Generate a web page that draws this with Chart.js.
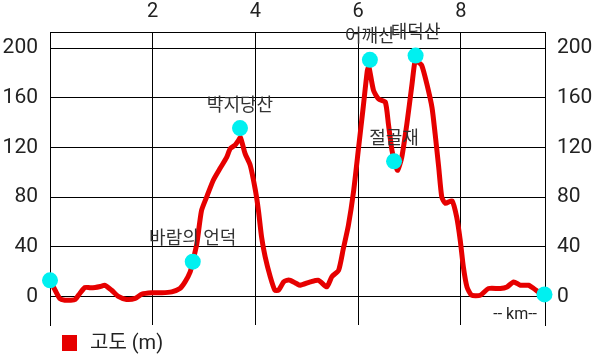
<!DOCTYPE html>
<html>
<head>
<meta charset="utf-8">
<script src="https://cdn.jsdelivr.net/npm/chart.js@4"></script>
<style>
  html, body { margin: 0; padding: 0; background: #fff; }
</style>
</head>
<body>
<canvas id="profileChart" width="602" height="362"></canvas>
<script>
// elevation profile (km, m)
const distanceKm = [0.00, 0.10, 0.19, 0.29, 0.40, 0.49, 0.58, 0.68, 0.78, 0.88, 0.98, 1.07, 1.20, 1.33, 1.49, 1.66, 1.79, 1.98,
  2.18, 2.37, 2.53, 2.63, 2.73, 2.78, 2.86, 2.95, 3.05, 3.18, 3.31, 3.44, 3.51, 3.60, 3.67, 3.71, 3.80, 3.90, 4.00,
  4.06, 4.12, 4.19, 4.29, 4.38, 4.45, 4.55, 4.61, 4.68, 4.80, 4.87, 5.07, 5.23, 5.39, 5.49, 5.62, 5.71, 5.81, 5.91,
  6.01, 6.10, 6.18, 6.21, 6.30, 6.40, 6.53, 6.59, 6.66, 6.72, 6.77, 6.85, 6.95, 7.05, 7.11, 7.16, 7.24, 7.34, 7.44,
  7.50, 7.57, 7.63, 7.70, 7.83, 7.92, 7.99, 8.05, 8.12, 8.21, 8.38, 8.54, 8.77, 8.90, 9.03, 9.16, 9.32, 9.42, 9.55, 9.61];
const elevation = [13, 5, -1.6, -3, -3, -2.4, 2.4, 7.2, 7, 7.2, 8, 9, 5, 0, -2.4, -1.6, 1.8, 2.9,
  2.9, 3.7, 6.4, 11.7, 19.8, 28, 42.6, 69, 80, 93.6, 103, 112, 119, 121.7, 125.7, 128, 115, 105.6, 85.5,
  69, 48, 32, 15.8, 5, 5, 11.7, 13, 13, 10.4, 9, 11.7, 13, 7.7, 16, 21, 38, 57, 84,
  120, 152.5, 182, 185, 166, 159, 156.6, 139, 117.7, 107, 101.6, 112, 139, 171, 190, 189, 186, 171, 152,
  131, 104, 80, 75, 77, 64, 45, 23.8, 7.7, 1, 1, 6.4, 6.4, 7.7, 11.7, 9, 9, 6.4, 2.4, 2];

// marked places
const placeNames = ['', '바람의 언덕', '박지당산', '어깨산', '절골재', '태덕산', ''];
const placeKm = [0, 2.78, 3.70, 6.23, 6.70, 7.12, 9.63];
const placeElev = [13, 28, 135.6, 190.6, 108.8, 194, 1.6];

const xTicks = [2, 4, 6, 8];
const yTicks = [0, 40, 80, 120, 160, 200];

const FONT = 'Roboto, "Noto Sans CJK KR", sans-serif';

const labelsPlugin = {
  id: 'placeLabels',
  afterDatasetsDraw(chart) {
    const ctx = chart.ctx;
    const meta = chart.getDatasetMeta(0);
    ctx.save();
    ctx.font = '18px ' + FONT;
    ctx.fillStyle = '#333';
    ctx.textAlign = 'center';
    ctx.textBaseline = 'middle';
    meta.data.forEach((pt, i) => {
      if (placeNames[i]) ctx.fillText(placeNames[i], pt.x, pt.y - 22);
    });

    // unit note
    ctx.font = '16px ' + FONT;
    ctx.fillStyle = '#222';
    ctx.textAlign = 'right';
    ctx.fillText('-- km--', chart.chartArea.right - 8, chart.chartArea.bottom - 10);

    // legend
    const ds = chart.data.datasets[1];
    ctx.fillStyle = ds.borderColor;
    ctx.fillRect(62, 335, 15, 16);
    ctx.font = '20px ' + FONT;
    ctx.fillStyle = '#222';
    ctx.textAlign = 'left';
    ctx.fillText(ds.label, 90, 344);
    ctx.restore();
  }
};

new Chart(document.getElementById('profileChart'), {
  type: 'line',
  data: {
    datasets: [{
      label: 'places',
      data: placeKm.map((x, i) => ({ x, y: placeElev[i] })),
      showLine: false,
      pointRadius: 8,
      pointBackgroundColor: '#00f0f0',
      pointBorderWidth: 0,
      clip: false
    }, {
      label: '고도 (m)',
      data: distanceKm.map((x, i) => ({ x, y: elevation[i] })),
      borderColor: '#e60000',
      borderWidth: 5,
      borderJoinStyle: 'round',
      borderCapStyle: 'round',
      tension: 0.2,
      pointRadius: 0
    }]
  },
  options: {
    responsive: false,
    animation: false,
    layout: { padding: { bottom: 37 } },
    plugins: { legend: { display: false }, tooltip: { enabled: false } },
    scales: {
      x: {
        type: 'linear',
        position: 'top',
        min: 0,
        max: 9.64,
        afterBuildTicks: axis => { axis.ticks = xTicks.map(v => ({ value: v })); },
        afterFit: axis => { axis.height = 32; },
        ticks: { color: '#222', font: { family: FONT, size: 20 }, padding: 8, maxRotation: 0 },
        grid: { color: '#000', lineWidth: 1, drawTicks: false },
        border: { color: '#000', width: 1 }
      },
      y: {
        position: 'left',
        min: -23,
        max: 213,
        afterBuildTicks: axis => { axis.ticks = yTicks.map(v => ({ value: v })); },
        afterFit: axis => { axis.width = 50; },
        ticks: { color: '#222', font: { family: FONT, size: 21 }, padding: 12 },
        grid: { color: '#000', lineWidth: 1, drawTicks: false },
        border: { color: '#000', width: 1 }
      },
      yRight: {
        position: 'right',
        min: -23,
        max: 213,
        afterBuildTicks: axis => { axis.ticks = yTicks.map(v => ({ value: v })); },
        afterFit: axis => { axis.width = 57; },
        ticks: { color: '#222', font: { family: FONT, size: 21 }, padding: 12 },
        grid: { display: false, drawTicks: false },
        border: { color: '#000', width: 1 }
      }
    }
  },
  plugins: [labelsPlugin]
});
</script>
</body>
</html>
